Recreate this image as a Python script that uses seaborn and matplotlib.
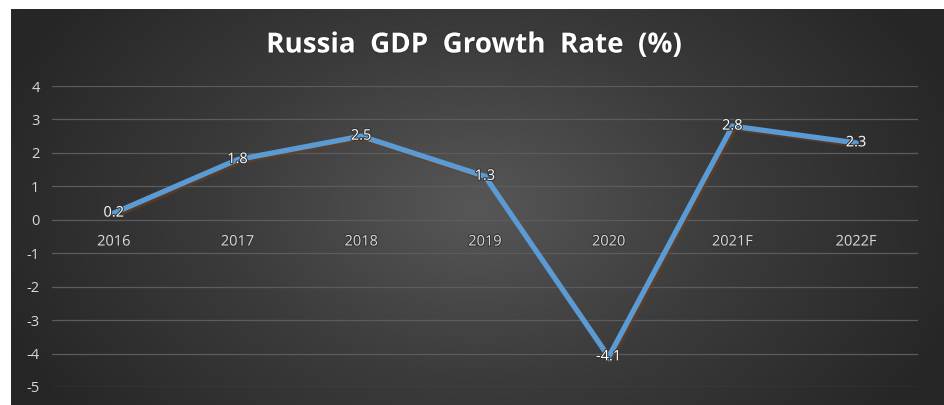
import numpy as np
import pandas as pd
import matplotlib
matplotlib.use('Agg')
import matplotlib.pyplot as plt
import matplotlib.patheffects as pe
from matplotlib.colors import LinearSegmentedColormap
import seaborn as sns

# data
years = ['2016', '2017', '2018', '2019', '2020', '2021F', '2022F']
growth = [0.2, 1.8, 2.5, 1.3, -4.1, 2.8, 2.3]
y_ticks = [4, 3, 2, 1, 0, -1, -2, -3, -4, -5]

df = pd.DataFrame({'year': years, 'growth': growth})

sns.set_style("dark")
plt.rcParams['font.family'] = ['Open Sans', 'DejaVu Sans']

fig = plt.figure(figsize=(9.44, 4.05), dpi=100)
fig.patch.set_facecolor('white')

# radial gradient background (lighter centre, dark edges)
bg = fig.add_axes([11 / 944, 0, 1 - 11 / 944, 1 - 9 / 405])
gx, gy = np.meshgrid(np.linspace(-1, 1, 400), np.linspace(-1, 1, 200))
r = np.sqrt((gx / 1.0) ** 2 + (gy / 1.6) ** 2)
cmap = LinearSegmentedColormap.from_list('bg', ['#575757', '#3b3b3b', '#262626'])
bg.imshow(np.clip(r, 0, 1.1), cmap=cmap, aspect='auto', extent=[0, 1, 0, 1], vmin=0, vmax=1.1)
bg.set_axis_off()

ax = fig.add_axes([52 / 944, (405 - 387) / 405, (918 - 52) / 944, (387 - 86) / 405])
ax.patch.set_alpha(0)

sns.lineplot(data=df, x='year', y='growth', ax=ax, sort=False, color='#5B9BD5',
             linewidth=3.8, solid_joinstyle='miter',
             path_effects=[pe.SimpleLineShadow(offset=(1.5, -1.5), shadow_color='#6b3f1f', alpha=0.6),
                           pe.Normal()])

ax.set_ylim(-5, 4)
ax.set_xlim(-0.5, len(years) - 0.5)
ax.set_yticks(y_ticks)
ax.set_yticklabels([str(t) for t in y_ticks], color='#d9d9d9', fontsize=10.5)
ax.tick_params(axis='y', length=0, pad=9)
ax.set_xticks([])
ax.set_xlabel('')
ax.set_ylabel('')
for s in ax.spines.values():
    s.set_visible(False)
for t in y_ticks:
    ax.axhline(t, color='#5c5c5c', linewidth=0.9, zorder=0)

txt_fx = [pe.withStroke(linewidth=1.5, foreground='#333333')]

# category labels sitting below the zero line
for i, yr in enumerate(years):
    ax.annotate(yr, (i, 0), xytext=(0, -16), textcoords='offset points',
                ha='center', va='center', color='#d9d9d9', fontsize=10.5, path_effects=txt_fx)

# data labels centred on the points
for i, v in enumerate(growth):
    ax.annotate(f'{v:.1f}', (i, v), xytext=(0, 0), textcoords='offset points',
                ha='center', va='center', color='white', fontsize=10.5, path_effects=txt_fx)

fig.text(474 / 944, 1 - 45 / 405, 'Russia  GDP  Growth  Rate  (%)', ha='center', va='center',
         color='white', fontsize=20, fontweight='bold', path_effects=txt_fx)

fig.savefig('out.png', dpi=100)
